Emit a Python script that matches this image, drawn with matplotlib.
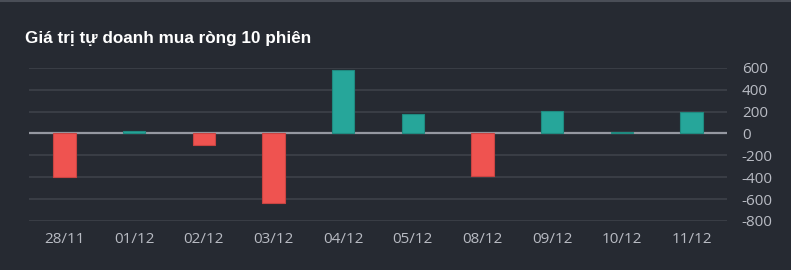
import matplotlib.pyplot as plt
import numpy as np

# data
dates = ['28/11', '01/12', '02/12', '03/12', '04/12', '05/12', '08/12', '09/12', '10/12', '11/12']
values = [-400, 20, -103, -633, 582, 177, -389, 205, 9, 192]
y_ticks = [600, 400, 200, 0, -200, -400, -600, -800]

bg = '#262a32'
up_color = '#26a69a'
down_color = '#ef5350'
text_color = '#b8bbc3'

W, H = 791, 270
fig = plt.figure(figsize=(W / 100, H / 100), dpi=100, facecolor=bg)

# axes placed in pixel coordinates of the reference
left, right, top, bottom = 29.5, 726.5, 67.7, 221.0
ax = fig.add_axes([left / W, 1 - bottom / H, (right - left) / W, (bottom - top) / H])
ax.set_facecolor(bg)

x = np.arange(len(dates))
colors = [up_color if v >= 0 else down_color for v in values]
edges = ['#1f8a80' if v >= 0 else '#c94442' for v in values]

ax.axhline(0, color='#9598a1', linewidth=1.6, zorder=3)
ax.bar(x, values, width=0.32, color=colors, edgecolor=edges, linewidth=0.8, zorder=4)

ax.set_xlim(-0.5, len(dates) - 0.5)
ax.set_ylim(-800, 600)
ax.set_yticks(y_ticks)
ax.set_yticklabels([str(t) for t in y_ticks])
ax.set_xticks(x)
ax.set_xticklabels(dates)

ax.yaxis.tick_right()
ax.grid(axis='y', color='#3d414a', linewidth=1.2, zorder=0)

for s in ax.spines.values():
    s.set_visible(False)
ax.tick_params(axis='both', length=0, colors=text_color, labelsize=11)
ax.tick_params(axis='y', pad=11)
ax.tick_params(axis='x', pad=8)
for lbl in ax.get_xticklabels() + ax.get_yticklabels():
    lbl.set_family(['Open Sans', 'DejaVu Sans'])
for lbl in ax.get_yticklabels():
    lbl.set_horizontalalignment('left')

# title
fig.text(25 / W, 1 - 38 / H, 'Giá trị tự doanh mua ròng 10 phiên', color='white',
         fontsize=12.3, fontweight='bold', family=['Liberation Sans', 'DejaVu Sans'],
         ha='left', va='center')

# thin border line at the top
fig.add_artist(plt.Line2D([0, 1], [1 - 1 / H, 1 - 1 / H], color='#4a4e57', linewidth=1.5))

fig.savefig('out.png', dpi=100, facecolor=bg)
